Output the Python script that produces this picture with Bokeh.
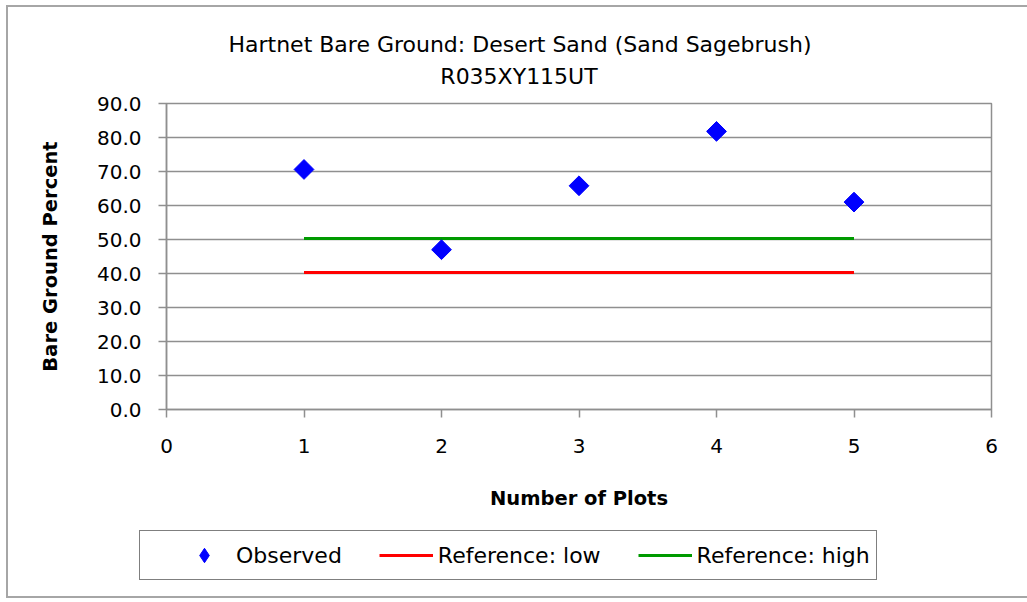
import math
from bokeh.plotting import figure
from bokeh.models import (Range1d, Legend, LegendItem, FixedTicker,
                          NumeralTickFormatter, Label)
from bokeh.embed import file_html
from bokeh.resources import INLINE

# ---------------- data ----------------
title_line1 = "Hartnet Bare Ground: Desert Sand (Sand Sagebrush)"
title_line2 = "R035XY115UT"
x_label = "Number of Plots"
y_label = "Bare Ground Percent"

plots = [1, 2, 3, 4, 5]
observed = [70.6, 47.0, 65.8, 81.8, 61.0]
ref_low = [40.3, 40.3, 40.3, 40.3, 40.3]
ref_high = [50.3, 50.3, 50.3, 50.3, 50.3]

x_ticks = [0, 1, 2, 3, 4, 5, 6]
y_ticks = [0, 10, 20, 30, 40, 50, 60, 70, 80, 90]

legend_labels = ["Observed", "Reference: low", "Reference: high"]

# ---------------- styles ----------------
FONT = "DejaVu Sans"
GRID = "#8f8f8f"
BLUE = "#0000ff"
RED = "#ff0000"
GREEN = "#009a00"
EDGE = "#a6a6a6"
W = 1019


def blank_strip(height):
    f = figure(width=W, height=height, x_range=Range1d(0, 1),
               y_range=Range1d(1000, 1001), x_axis_type=None,
               y_axis_type=None, output_backend="svg",
               toolbar_location=None, title=None, min_border=0)
    f.outline_line_color = None
    f.grid.visible = False
    f.background_fill_color = "white"
    f.border_fill_color = "white"
    return f


# ---------------- title strip ----------------
tf = blank_strip(80)
tf.add_layout(Label(x=511.5, y=43, x_units="screen", y_units="screen",
                    text=title_line1, text_align="center",
                    text_baseline="alphabetic", text_font=FONT,
                    text_font_size="22px", text_color="black"))
tf.add_layout(Label(x=510.5, y=11.5, x_units="screen", y_units="screen",
                    text=title_line2, text_align="center",
                    text_baseline="alphabetic", text_font=FONT,
                    text_font_size="22px", text_color="black"))
tf.styles = {"margin-left": "8px", "margin-top": "7px",
             "box-shadow": f"-2px 0 0 0 {EDGE}, 0 -2px 0 0 {EDGE}, "
                           f"-2px -2px 0 0 {EDGE}"}

# ---------------- main chart ----------------
p = figure(width=W, height=437,
           x_range=Range1d(0, 6), y_range=Range1d(0, 90),
           output_backend="svg", toolbar_location=None, title=None,
           min_border_left=158, min_border_right=36,
           min_border_top=16, min_border_bottom=115)
p.styles = {"margin-left": "8px", "box-shadow": f"-2px 0 0 0 {EDGE}"}

p.outline_line_color = GRID
p.outline_line_width = 1.5
p.background_fill_color = "white"
p.border_fill_color = "white"

p.xgrid.visible = False
p.ygrid.ticker = FixedTicker(ticks=y_ticks)
p.ygrid.grid_line_color = GRID
p.ygrid.grid_line_width = 1.5

for ax in (p.xaxis[0], p.yaxis[0]):
    ax.axis_line_color = GRID
    ax.axis_line_width = 1.5
    ax.major_tick_line_color = GRID
    ax.major_tick_line_width = 1.5
    ax.major_tick_out = 8
    ax.major_tick_in = 0
    ax.minor_tick_out = 0
    ax.minor_tick_in = 0
    ax.major_label_text_font = FONT
    ax.major_label_text_font_size = "20px"
    ax.major_label_text_color = "black"
    ax.axis_label_text_font = FONT
    ax.axis_label_text_font_size = "19.5px"
    ax.axis_label_text_font_style = "bold"
    ax.axis_label_text_color = "black"

p.xaxis.ticker = FixedTicker(ticks=x_ticks)
p.yaxis.ticker = FixedTicker(ticks=y_ticks)
p.yaxis.formatter = NumeralTickFormatter(format="0.0")
p.xaxis.axis_label = x_label
p.yaxis.axis_label = y_label
p.xaxis.major_label_standoff = 21
p.xaxis.axis_label_standoff = 31
p.yaxis.major_label_standoff = 17
p.yaxis.axis_label_standoff = 32

r_low = p.line(plots, ref_low, line_color=RED, line_width=3)
r_high = p.line(plots, ref_high, line_color=GREEN, line_width=3)
r_obs = p.scatter(plots, observed, marker="square", angle=math.pi / 4,
                  size=14, fill_color=BLUE, line_color=BLUE)

# ---------------- legend strip ----------------
lf = blank_strip(72)
# same series, drawn off-range in this strip: they only provide legend keys
k_obs = lf.scatter(plots, observed, marker="diamond", size=14,
                   fill_color=BLUE, line_color=BLUE)
k_low = lf.line(plots, ref_low, line_color=RED, line_width=3)
k_high = lf.line(plots, ref_high, line_color=GREEN, line_width=3)

legend_kw = dict(padding=6, spacing=37, glyph_width=54, glyph_height=36,
                 label_standoff=5, label_text_font=FONT,
                 label_text_font_size="22px", label_text_color="black",
                 border_line_color="black", border_line_width=1.5,
                 background_fill_color="white", background_fill_alpha=1,
                 margin=0, orientation="horizontal")
vx = 164
if "title_location" in Legend.properties():
    legend_kw.update(title=" ", title_location="left", title_standoff=7,
                     title_text_font=FONT, title_text_font_size="20px")
    vx = 131
legend = Legend(items=[LegendItem(label=legend_labels[0], renderers=[k_obs]),
                       LegendItem(label=legend_labels[1], renderers=[k_low]),
                       LegendItem(label=legend_labels[2], renderers=[k_high])],
                location=(vx, 16), **legend_kw)
lf.add_layout(legend)
lf.styles = {"margin-left": "8px",
             "box-shadow": f"-2px 0 0 0 {EDGE}, 0 2px 0 0 {EDGE}, "
                           f"-2px 2px 0 0 {EDGE}"}

open("out.html", "w").write(file_html([tf, p, lf], INLINE))
